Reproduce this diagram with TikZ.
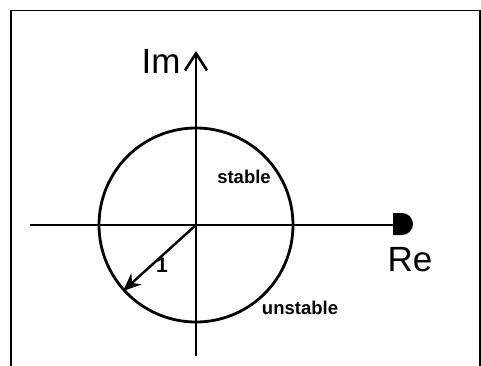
\documentclass[tikz,border=0pt]{standalone}
\usepackage{fontspec}
\setmainfont{Liberation Sans}
\usetikzlibrary{arrows.meta}
\tikzset{
  axis/.style={line width=2.4pt},
  ring/.style={line width=2.8pt},
  frame/.style={line width=1.8pt},
  biglabel/.style={font=\fontsize{35}{35}\selectfont, inner sep=0pt},
  smalllabel/.style={font=\fontsize{18.5}{18.5}\selectfont\bfseries, inner sep=0pt},
}
\begin{document}
\begin{tikzpicture}[x=1pt,y=-1pt]
\useasboundingbox (0,0) rectangle (481,365);
% frame
\coordinate (fbl) at (11,370);
\coordinate (ftl) at (11,10.5);
\coordinate (ftr) at (480,10.5);
\coordinate (fbr) at (480,370);
\draw[frame] (fbl) -- (ftl) -- (ftr) -- (fbr);
% axes
\coordinate (O) at (196,225);
\coordinate (xl) at (30,225);
\coordinate (xr) at (394,225);
\coordinate (yb) at (196,356);
\coordinate (yt) at (196,51);
\draw[axis] (xl) -- (xr);
\draw[axis, -{Straight Barb[length=17pt,width=22pt,line width=2.6pt]}] (yb) -- (yt);
% Re end blob
\fill (393,213) -- (402,213) arc[start angle=-90,end angle=90,radius=11] -- (393,235) -- cycle;
% circle
\draw[ring] (O) circle[radius=97];
% radius arrow
\coordinate (rp) at (123,291);
\draw[line width=2.4pt, -{Stealth[length=18pt,width=15pt]}] (O) -- (rp);
% labels
\node[biglabel] (im) at (161,61) {Im};
\node[biglabel] (re) at (410,260) {Re};
\node[font=\fontsize{21}{21}\selectfont\bfseries, inner sep=0pt] (one) at (162,265) {1};
\node[smalllabel] (st) at (244,177) {stable};
\node[smalllabel] (un) at (300,308) {unstable};
\end{tikzpicture}
\end{document}
